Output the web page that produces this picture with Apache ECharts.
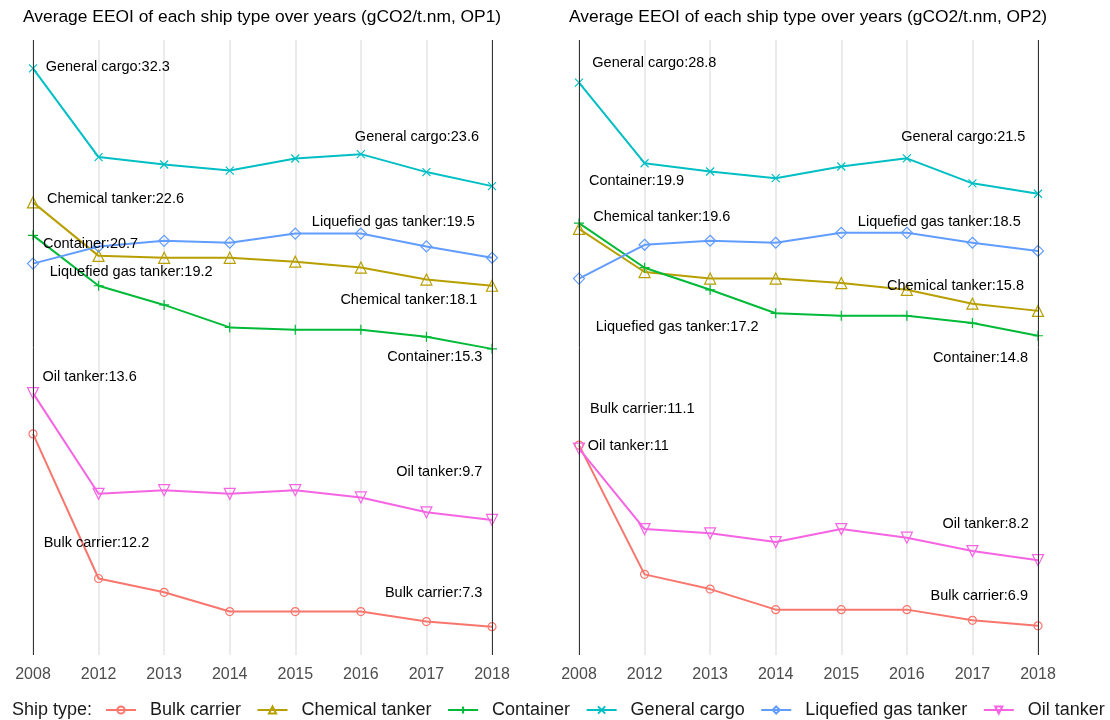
<!DOCTYPE html>
<html>
<head>
<meta charset="utf-8">
<script src="https://cdn.jsdelivr.net/npm/echarts@6/dist/echarts.min.js"></script>
<style>
  html, body { margin: 0; padding: 0; background: #fff; }
  #chart { width: 1110px; height: 720px; }
</style>
</head>
<body>
<div id="chart"></div>
<script>
// Survey years on the x axis
const years = ['2008', '2012', '2013', '2014', '2015', '2016', '2017', '2018'];
const shipTypes = ['Bulk carrier', 'Chemical tanker', 'Container', 'General cargo', 'Liquefied gas tanker', 'Oil tanker'];

// Average EEOI (gCO2/t.nm), operating profile OP1
const bulkOP1 = [12.2, 8.3, 8.0, 7.6, 7.6, 7.6, 7.4, 7.3];
const chemOP1 = [22.6, 19.6, 19.5, 19.5, 19.3, 19.0, 18.4, 18.1];
const contOP1 = [20.7, 18.1, 17.2, 16.2, 16.1, 16.1, 15.8, 15.3];
const cargoOP1 = [32.3, 25.5, 25.0, 24.6, 25.4, 25.7, 24.5, 23.6];
const gasOP1 = [19.2, 20.1, 20.4, 20.3, 20.8, 20.8, 20.1, 19.5];
const oilOP1 = [13.6, 10.4, 10.5, 10.4, 10.5, 10.3, 9.9, 9.7];

// Average EEOI (gCO2/t.nm), operating profile OP2
const bulkOP2 = [11.1, 7.9, 7.6, 7.2, 7.2, 7.2, 7.0, 6.9];
const chemOP2 = [19.6, 17.5, 17.2, 17.2, 17.0, 16.7, 16.1, 15.8];
const contOP2 = [19.9, 17.7, 16.7, 15.7, 15.6, 15.6, 15.3, 14.8];
const cargoOP2 = [28.8, 23.3, 22.8, 22.4, 23.1, 23.6, 22.1, 21.5];
const gasOP2 = [17.2, 18.8, 19.0, 18.9, 19.4, 19.4, 18.9, 18.5];
const oilOP2 = [11.0, 8.9, 8.8, 8.6, 8.9, 8.7, 8.4, 8.2];

// Log-scale y extents of each panel
const yRangeOP1 = [6.77, 34.83];
const yRangeOP2 = [6.39, 32.22];

const panels = [
  { title: 'Average EEOI of each ship type over years (gCO2/t.nm, OP1)', values: [bulkOP1, chemOP1, contOP1, cargoOP1, gasOP1, oilOP1], range: yRangeOP1 },
  { title: 'Average EEOI of each ship type over years (gCO2/t.nm, OP2)', values: [bulkOP2, chemOP2, contOP2, cargoOP2, gasOP2, oilOP2], range: yRangeOP2 }
];

// ggplot default hue palette
const colors = ['#F8766D', '#B79F00', '#00BA38', '#00BFC4', '#619CFF', '#F564E3'];
const markers = [
  { symbol: 'circle', size: 8, rotate: 0 },
  { symbol: 'triangle', size: 11, rotate: 0 },
  { symbol: 'path://M0,5L10,5M5,0L5,10', size: 10, rotate: 0 },
  { symbol: 'path://M0,0L10,10M10,0L0,10', size: 8, rotate: 0 },
  { symbol: 'diamond', size: 11, rotate: 0 },
  { symbol: 'triangle', size: 11, rotate: 180 }
];

// Offsets of the first-year and last-year text labels: [dxFirst, dyFirst, dxLast, dyLast]
const labelOffsets = [
  [[10.7, 109, -9.6, -33.4], [14, -3.3, -14.6, 14.3], [10, 8.4, -9.6, 7.7],
   [12.7, -1.6, -13, -49.3], [16.7, 8.4, -17.3, -36], [9.4, -16, -9.6, -47.7]],
  [[11, -35.6, -10, -30.3], [14.3, -11.7, -14, -25], [10, -42.3, -10, 22.5],
   [13.3, -19.4, -12.6, -57], [16.7, 48, -17.3, -28.6], [8.7, -3, -9.3, -35.7]]
];

const FONT = "'Liberation Sans', Arial, sans-serif";

const grids = [], xAxes = [], yAxes = [], series = [], titles = [];
const gridLefts = [33, 579];

panels.forEach((panel, p) => {
  grids.push({ left: gridLefts[p], top: 40, width: 459, height: 615 });
  titles.push({
    text: panel.title, left: gridLefts[p] - 15, top: 4,
    textStyle: { fontSize: 17.4, fontWeight: 'normal', color: '#000', fontFamily: FONT }
  });
  xAxes.push({
    type: 'category', gridIndex: p, data: years, boundaryGap: false,
    axisLine: { show: false }, axisTick: { show: false },
    axisLabel: { fontSize: 16, color: '#4d4d4d', margin: 12, fontFamily: FONT },
    splitLine: { show: true, lineStyle: { color: '#ebebeb', width: 2 } }
  });
  yAxes.push({
    type: 'log', gridIndex: p, min: panel.range[0], max: panel.range[1],
    axisLine: { show: false }, axisTick: { show: false },
    axisLabel: { show: false }, splitLine: { show: false }
  });
  shipTypes.forEach((name, s) => {
    const vals = panel.values[s];
    const off = labelOffsets[p][s];
    const data = vals.map((v, i) => {
      if (i === 0 || i === vals.length - 1) {
        const first = i === 0;
        return {
          value: v,
          label: {
            show: true, position: 'inside',
            align: first ? 'left' : 'right', verticalAlign: 'middle',
            offset: first ? [off[0], off[1]] : [off[2], off[3]]
          }
        };
      }
      return v;
    });
    const m = markers[s];
    const item = {
      type: 'line', name: name, xAxisIndex: p, yAxisIndex: p, data: data,
      symbol: m.symbol, symbolSize: m.size, symbolRotate: m.rotate,
      showSymbol: true, showAllSymbol: true,
      lineStyle: { color: colors[s], width: 2 },
      itemStyle: { color: 'rgba(0,0,0,0)', borderColor: colors[s], borderWidth: 1.2 },
      emphasis: { disabled: true },
      label: {
        show: false, fontSize: 14.5, color: '#000', fontFamily: FONT,
        formatter: (d) => d.seriesName + ':' + d.value
      },
      z: 3
    };
    if (s === 0) {
      // panel edge lines at the first and last year
      item.markLine = {
        silent: true, symbol: 'none', animation: false,
        label: { show: false },
        lineStyle: { color: '#333', width: 1, type: 'solid' },
        data: [{ xAxis: years[0] }, { xAxis: years[years.length - 1] }]
      };
    }
    series.push(item);
  });
});

const chart = echarts.init(document.getElementById('chart'), null, { renderer: 'canvas' });
chart.setOption({
  animation: false,
  backgroundColor: '#fff',
  title: titles,
  grid: grids,
  xAxis: xAxes,
  yAxis: yAxes,
  legend: {
    data: shipTypes, left: 100, top: 696, selectedMode: false,
    itemWidth: 30, itemHeight: 9, itemGap: 15.5,
    textStyle: { fontSize: 18, color: '#1a1a1a', fontFamily: FONT, padding: [0, 0, 0, 9] }
  },
  graphic: [{
    type: 'text', left: 12, top: 701,
    style: { text: 'Ship type:', font: '18px ' + FONT, fill: '#1a1a1a' }
  }],
  series: series
});
</script>
</body>
</html>
